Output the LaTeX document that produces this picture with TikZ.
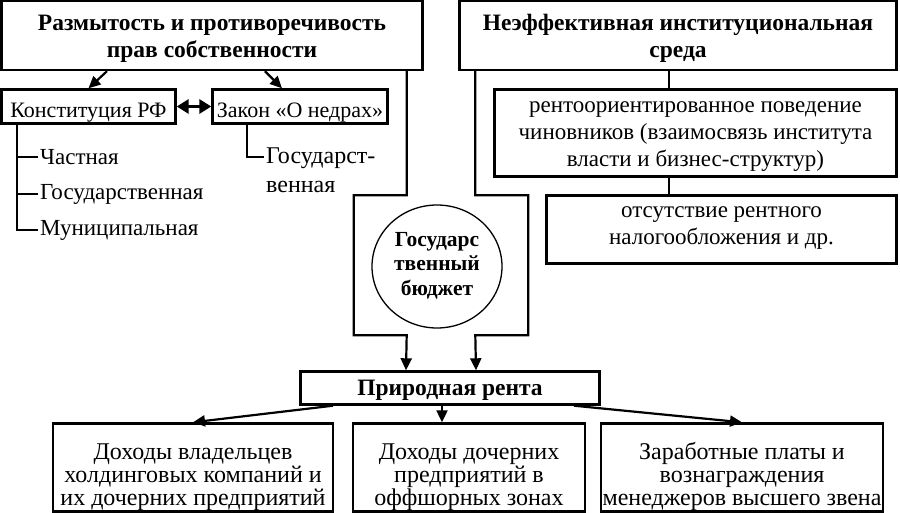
\documentclass[tikz,border=0pt]{standalone}
\usepackage{fontspec}
\setmainfont{Liberation Serif}
\usetikzlibrary{arrows.meta, positioning, calc, shapes.geometric}

\tikzset{
  box/.style={draw, line width=2.4pt, align=center, inner sep=0pt},
  txth/.style={text depth=0pt, text height=#1},
  head/.style={font=\fontsize{23.5}{27}\selectfont\bfseries},
  lnk/.style={line width=2.2pt},
  arr/.style={lnk, -{Triangle[length=12pt,width=11pt]}},
  item/.style={anchor=west, inner sep=2pt, align=left, font=\fontsize{23}{27}\selectfont},
}

\begin{document}
\begin{tikzpicture}[x=1pt, y=-1pt, font=\fontsize{22}{27}\selectfont]
            \useasboundingbox (0,0) rectangle (900,513);

            \node[box, head, txth=45pt, minimum width=421pt, minimum height=69pt] (razm) at (212,35.5) {Размытость и противоречивость\\прав собственности};
            \node[box, head, txth=45pt, minimum width=437pt, minimum height=69pt] (neef) at (678,35.5) {Неэффективная институциональная\\среда};

            \node[box, txth=23pt, minimum width=174pt, minimum height=34pt] (konst) at (88.5,106.5) {Конституция РФ};
            \node[box, txth=23pt, minimum width=175pt, minimum height=34pt] (zakon) at (300,106.5) {Закон «О недрах»};

            \node[item] (chast) at (38,157) {Частная};
            \node[item] (gos) at (38,194) {Государственная};
            \node[item] (mun) at (38,230) {Муниципальная};
            \node[item, anchor=base west, font=\fontsize{24}{29}\selectfont] (gosz) at (264,193) {Государст-\\венная};

            \node[box, txth=68pt, font=\fontsize{23}{27}\selectfont, minimum width=402pt, minimum height=87pt] (rent) at (695.5,133) {рентоориентированное поведение\\чиновников (взаимосвязь института\\власти и бизнес-структур)};
            \node[box, txth=31pt, font=\fontsize{23}{28}\selectfont, minimum width=350pt, minimum height=68pt] (otsut) at (721.5,229.5) {отсутствие рентного\\налогообложения и др.};

            \node[draw, ellipse, txth=57pt, line width=1.3pt, align=center, inner sep=0pt, minimum width=130pt, minimum height=123pt,
                  font=\fontsize{21.5}{24.5}\selectfont\bfseries] (bud) at (437,266.5) {Государс\\твенный\\бюджет};

            \node[box, head, txth=14pt, minimum width=299pt, minimum height=33pt] (prirod) at (450,388) {Природная рента};

            \begin{scope}[font=\fontsize{24}{23}\selectfont, txth=75pt]
                \node[box, minimum width=280pt, minimum height=88pt] (doh1) at (193,467.5) {Доходы владельцев\\холдинговых компаний и\\их дочерних предприятий};
                \node[box, minimum width=232pt, minimum height=88pt] (doh2) at (469,467.5) {Доходы дочерних\\предприятий в\\оффшорных зонах};
                \node[box, minimum width=282pt, minimum height=88pt] (doh3) at (742,467.5) {Заработные платы и\\вознаграждения\\менеджеров высшего звена};
            \end{scope}

            \draw[arr] ([xshift=-105pt]razm.south) -- (konst.north);
            \draw[arr] ([xshift=53pt]razm.south) -- ([xshift=-18pt]zakon.north);
            \draw[line width=3pt, {Triangle[length=12pt,width=14pt]}-{Triangle[length=12pt,width=14pt]}] (konst.east) -- (zakon.west);

            \draw[lnk] ([xshift=-71.5pt]konst.south) |- (chast.west);
            \draw[lnk] ([xshift=-71.5pt]konst.south) |- (gos.west);
            \draw[lnk] ([xshift=-71.5pt]konst.south) |- (mun.west);
            \draw[lnk] ([xshift=-53pt]zakon.south) |- ([yshift=36pt]gosz.base west);

            \draw[lnk] ([xshift=-9pt]neef.south) -- ([xshift=-9pt]neef.south |- rent.north);
            \draw[lnk] ([xshift=-26.5pt]rent.south) -- ([xshift=-26.5pt]rent.south |- otsut.north);

            \draw[arr] ([xshift=-17pt]razm.south east) -- ++(0,124) -- ++(-53,0) -- ++(0,140) -- ++(53,0) -- ([xshift=-44pt]prirod.north);
            \draw[arr] ([xshift=17pt]neef.south west) -- ++(0,124) -- ++(53,0) -- ++(0,140) -- ++(-53,0) -- ([xshift=26pt]prirod.north);

            \draw[arr] ([xshift=-117pt]prirod.south) -- (doh1.north);
            \draw[arr] ([xshift=-8pt]prirod.south) -- ([xshift=-8pt]prirod.south |- doh2.north);
            \draw[arr] ([xshift=124pt]prirod.south) -- (doh3.north);
        \end{tikzpicture}
\end{document}
